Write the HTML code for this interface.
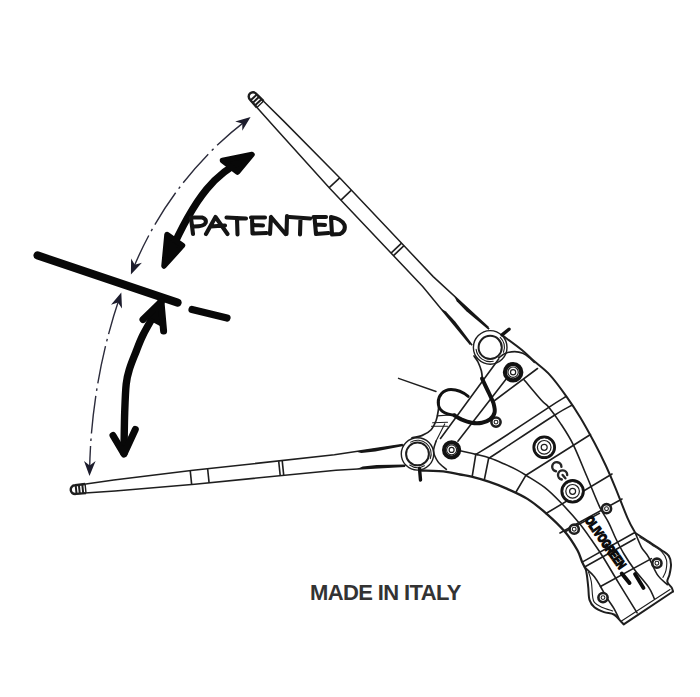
<!DOCTYPE html>
<html><head><meta charset="utf-8"><style>
html,body{margin:0;padding:0;background:#fff;}
body{width:700px;height:697px;overflow:hidden;position:relative;}
svg{position:absolute;left:0;top:0;}
</style></head><body>
<svg width="700" height="697" viewBox="0 0 700 697">
<g>
<rect x="0" y="0" width="700" height="697" fill="#fff"/>
<polygon points="255.6,93.6 262.8,100.5 284.2,121.6 340.4,178.5 433.2,276.6 488.5,327.5 470.4,344.6 422.7,286.5 329.9,188.5 276.2,129.1 256.3,106.7 249.8,99.0" fill="#fff"/><polyline points="255.6,93.6 262.8,100.5 284.2,121.6 340.4,178.5 433.2,276.6 488.5,327.5" fill="none" stroke="#1e1e1e" stroke-width="1.5"/><polyline points="249.8,99.0 256.3,106.7 276.2,129.1 329.9,188.5 422.7,286.5 470.4,344.6" fill="none" stroke="#1e1e1e" stroke-width="1.5"/><path d="M263.6,101.1 L256.5,94.1 C252.3,89.1 245.6,95.5 250.3,100.0 L256.9,107.5" fill="#fff" stroke="#1e1e1e" stroke-width="2.4"/><line x1="256.8" y1="94.5" x2="250.7" y2="100.3" stroke="#1e1e1e" stroke-width="2.0"/><line x1="259.2" y1="96.8" x2="252.8" y2="102.8" stroke="#1e1e1e" stroke-width="2.0"/><line x1="261.6" y1="99.2" x2="255.1" y2="105.3" stroke="#1e1e1e" stroke-width="2.0"/><line x1="263.6" y1="101.1" x2="256.9" y2="107.5" stroke="#1e1e1e" stroke-width="1.4"/><line x1="339.7" y1="177.8" x2="329.2" y2="187.7" stroke="#1e1e1e" stroke-width="1.6"/><line x1="351.4" y1="190.1" x2="340.9" y2="200.1" stroke="#1e1e1e" stroke-width="1.6"/><line x1="401.6" y1="243.2" x2="391.0" y2="253.1" stroke="#1e1e1e" stroke-width="1.6"/><line x1="404.0" y1="245.7" x2="393.5" y2="255.7" stroke="#1e1e1e" stroke-width="1.6"/><polygon points="453.9,295.6 489.7,328.6 488.5,329.7 466.4,311.2 456.7,301.2" fill="#151515"/><polygon points="440.5,308.2 471.5,345.8 472.7,344.7 455.4,321.7 445.9,311.4" fill="#151515"/>
<polygon points="74.2,485.7 84.1,484.2 113.8,480.1 193.2,470.3 334.4,454.8 402.7,444.4 405.0,466.3 336.0,470.2 194.7,484.2 115.0,491.0 85.0,493.1 75.0,493.7" fill="#fff"/><polyline points="74.2,485.7 84.1,484.2 113.8,480.1 193.2,470.3 334.4,454.8 402.7,444.4" fill="none" stroke="#1e1e1e" stroke-width="1.5"/><polyline points="75.0,493.7 85.0,493.1 115.0,491.0 194.7,484.2 336.0,470.2 405.0,466.3" fill="none" stroke="#1e1e1e" stroke-width="1.5"/><path d="M85.1,484.0 L75.1,485.3 C68.7,485.7 69.6,494.8 76.0,493.9 L86.0,493.1" fill="#fff" stroke="#1e1e1e" stroke-width="2.4"/><line x1="75.7" y1="485.4" x2="76.5" y2="493.7" stroke="#1e1e1e" stroke-width="2.0"/><line x1="78.9" y1="484.9" x2="79.8" y2="493.5" stroke="#1e1e1e" stroke-width="2.0"/><line x1="82.3" y1="484.4" x2="83.2" y2="493.3" stroke="#1e1e1e" stroke-width="2.0"/><line x1="85.1" y1="484.0" x2="86.0" y2="493.1" stroke="#1e1e1e" stroke-width="1.4"/><line x1="190.2" y1="470.3" x2="191.7" y2="484.8" stroke="#1e1e1e" stroke-width="1.6"/><line x1="207.6" y1="468.5" x2="209.1" y2="482.9" stroke="#1e1e1e" stroke-width="1.6"/><line x1="278.7" y1="461.1" x2="280.2" y2="475.5" stroke="#1e1e1e" stroke-width="1.6"/><line x1="282.2" y1="460.7" x2="283.7" y2="475.2" stroke="#1e1e1e" stroke-width="1.6"/><polygon points="355.2,451.6 403.4,444.3 403.6,445.9 375.3,451.6 361.3,452.9" fill="#151515"/><polygon points="357.0,469.0 405.7,466.2 405.5,464.6 376.7,464.9 362.7,466.5" fill="#151515"/>
<path d="M503.3,336.1 C506.4,338.4 516.4,345.6 521.6,349.8 C526.8,354.0 529.6,357.1 534.3,361.3 C539.0,365.5 544.7,369.3 550.0,375.1 C555.3,380.9 561.0,388.8 566.0,395.9 C571.0,402.9 575.5,409.5 580.3,417.4 C585.1,425.3 590.4,435.1 594.7,443.2 C599.0,451.3 602.6,458.6 606.0,466.0 C609.4,473.4 611.6,478.5 615.2,487.3 C618.9,496.1 624.5,511.3 627.9,518.9 C631.2,526.5 634.1,530.6 635.3,533.0" fill="none" stroke="#1e1e1e" stroke-width="2.0" stroke-linecap="round" stroke-linejoin="round" />
<path d="M635.3,533.0 C637.5,534.4 644.3,538.7 648.7,541.6 C653.1,544.5 658.2,547.8 661.6,550.2 C665.0,552.6 667.2,553.5 668.8,555.9 C670.4,558.3 670.9,561.4 671.0,564.5 C671.1,567.6 670.1,571.7 669.5,574.6 C668.9,577.5 666.9,579.6 667.3,581.7 C667.6,583.9 670.6,585.9 671.6,587.5 C672.6,589.1 672.8,590.8 673.0,591.5" fill="none" stroke="#1e1e1e" stroke-width="2.0" stroke-linecap="round" stroke-linejoin="round" />
<path d="M673,591.5 L623.7,624.3" fill="none" stroke="#1e1e1e" stroke-width="2.0" stroke-linecap="round" stroke-linejoin="round" />
<path d="M623.7,624.3 C623.3,623.9 622.8,623.4 621.2,621.8 C619.6,620.2 616.8,616.1 613.9,614.5 C611.0,612.9 607.4,613.3 604.1,612.1 C600.9,610.9 596.8,609.2 594.4,607.2 C592.0,605.2 590.5,603.1 589.5,599.9 C588.5,596.6 588.7,591.6 588.3,587.7 C587.9,583.8 587.5,579.8 587.1,576.7 C586.7,573.7 586.1,570.6 585.9,569.4" fill="none" stroke="#1e1e1e" stroke-width="2.0" stroke-linecap="round" stroke-linejoin="round" />
<path d="M585.9,569.4 C585.3,568.2 583.6,565.3 582.2,562.1 C580.8,558.9 580.2,555.1 577.3,550.0 C574.4,544.9 569.9,537.6 564.7,531.5 C559.5,525.4 552.3,518.7 546.1,513.3 C539.9,507.9 533.9,503.0 527.4,498.9 C520.9,494.8 513.8,491.8 507.3,488.9 C500.9,486.0 494.7,483.7 488.7,481.7 C482.7,479.7 476.3,477.9 471.5,476.7 C466.7,475.5 464.2,475.3 460.0,474.5 C455.8,473.7 452.8,472.5 446.4,471.8 C440.0,471.1 425.7,470.7 421.6,470.5" fill="none" stroke="#1e1e1e" stroke-width="2.3" stroke-linecap="round" stroke-linejoin="round" />
<path d="M635.3,533.0 C636.3,535.4 639.3,543.2 641.5,547.3 C643.7,551.3 646.1,552.8 648.7,557.3 C651.3,561.8 654.2,570.0 657.3,574.6 C660.4,579.2 665.6,582.9 667.3,584.6" fill="none" stroke="#1e1e1e" stroke-width="1.6" stroke-linecap="round" stroke-linejoin="round" />
<path d="M639.8,537.3 C641.8,538.6 648.4,542.6 652.0,545.0 C655.6,547.4 659.2,549.1 661.6,551.6 C664.0,554.1 665.8,557.1 666.5,560.2 C667.2,563.3 666.6,567.4 666.0,570.3 C665.4,573.2 663.5,576.2 663.0,577.4" fill="none" stroke="#1e1e1e" stroke-width="1.1" stroke-linecap="round" stroke-linejoin="round" />
<path d="M585.9,568.2 C587.3,569.6 592.0,573.7 594.4,576.7 C596.8,579.8 598.5,583.0 600.5,586.5 C602.5,590.0 604.4,593.8 606.6,597.4 C608.8,601.0 611.9,604.9 613.9,608.4 C615.9,611.9 618.0,616.6 618.8,618.2" fill="none" stroke="#1e1e1e" stroke-width="1.6" stroke-linecap="round" stroke-linejoin="round" />
<path d="M588.5,572.0 C589.0,573.6 590.6,577.6 591.3,581.6 C592.0,585.6 592.1,592.8 592.6,596.2 C593.1,599.7 592.9,600.5 594.4,602.3 C595.9,604.1 598.7,605.8 601.7,607.2 C604.8,608.6 610.9,610.3 612.7,610.9" fill="none" stroke="#1e1e1e" stroke-width="1.1" stroke-linecap="round" stroke-linejoin="round" />
<path d="M670,589.5 L621.5,621" fill="none" stroke="#1e1e1e" stroke-width="1.1" stroke-linecap="round" stroke-linejoin="round" />
<circle cx="490.2" cy="347.4" r="16.8" fill="#fff" stroke="#1e1e1e" stroke-width="1.4"/>
<path d="M500.2,337.4 A14.200000000000001,14.200000000000001 0 0 1 503.5,352.3" fill="none" stroke="#1e1e1e" stroke-width="1.1" stroke-linecap="round" stroke-linejoin="round" />
<path d="M493.2,361.3 A14.200000000000001,14.200000000000001 0 0 1 476.1,349.4" fill="none" stroke="#1e1e1e" stroke-width="1.1" stroke-linecap="round" stroke-linejoin="round" />
<circle cx="490.2" cy="347.4" r="11.6" fill="#fff" stroke="#1e1e1e" stroke-width="2.0"/>
<circle cx="417.5" cy="453.9" r="16.2" fill="#fff" stroke="#1e1e1e" stroke-width="1.4"/>
<path d="M410.7,442.1 A13.6,13.6 0 0 1 430.3,458.6" fill="none" stroke="#1e1e1e" stroke-width="1.1" stroke-linecap="round" stroke-linejoin="round" />
<path d="M424.3,465.7 A13.6,13.6 0 0 1 409.7,465.0" fill="none" stroke="#1e1e1e" stroke-width="1.1" stroke-linecap="round" stroke-linejoin="round" />
<circle cx="417.5" cy="453.9" r="11.4" fill="#fff" stroke="#1e1e1e" stroke-width="2.0"/>
<path d="M474.0,356.0 C474.7,357.0 476.8,359.5 478.0,362.0 C479.2,364.5 480.6,368.0 481.4,371.0 C482.1,374.0 482.3,378.5 482.5,380.0" fill="none" stroke="#1e1e1e" stroke-width="1.7" stroke-linecap="round" stroke-linejoin="round" />
<path d="M439.0,402.0 C438.9,403.3 438.9,406.6 438.4,409.6 C437.9,412.7 437.4,416.9 436.2,420.3 C434.9,423.7 433.2,427.5 430.9,430.0 C428.6,432.5 425.4,434.1 422.3,435.4 C419.2,436.7 413.7,437.4 412.0,437.8" fill="none" stroke="#1e1e1e" stroke-width="1.7" stroke-linecap="round" stroke-linejoin="round" />
<path d="M437.2,415.9 L453.3,414.8 M432.6,422.8 L447.5,422.2 M431.5,426.2 L447.5,426.2" fill="none" stroke="#1e1e1e" stroke-width="1.1" stroke-linecap="round" stroke-linejoin="round" />
<path d="M498.7,359 L440.5,438.5" fill="none" stroke="#1e1e1e" stroke-width="1.6" stroke-linecap="round" stroke-linejoin="round" />
<path d="M505.6,379.7 L457.9,441.2" fill="none" stroke="#1e1e1e" stroke-width="1.6" stroke-linecap="round" stroke-linejoin="round" />
<path d="M498.7,357.9 C499.9,357.1 502.9,354.4 505.6,353.3 C508.3,352.2 511.9,351.6 514.8,351.6 C517.7,351.6 520.3,352.2 522.8,353.3 C525.3,354.4 527.8,356.4 529.7,357.9 C531.6,359.4 533.5,361.7 534.3,362.5" fill="none" stroke="#1e1e1e" stroke-width="1.6" stroke-linecap="round" stroke-linejoin="round" />
<path d="M537.5,368.5 L494,401" fill="none" stroke="#1e1e1e" stroke-width="1.6" stroke-linecap="round" stroke-linejoin="round" />
<path d="M524.0,379.7 C526.9,383.1 537.1,395.4 541.2,400.0 C545.3,404.6 545.6,403.4 548.8,407.3 C552.0,411.2 556.2,416.9 560.3,423.1 C564.4,429.3 568.8,435.7 573.2,444.6 C577.6,453.5 582.4,466.0 586.8,476.3 C591.2,486.6 595.8,498.6 599.4,506.3 C603.0,514.0 605.8,517.1 608.6,522.6 C611.4,528.1 613.4,533.8 616.0,539.0 C618.6,544.2 621.0,549.0 624.0,554.0 C627.0,559.0 629.9,563.5 634.0,569.0 C638.1,574.5 645.2,582.2 648.6,587.1 C652.0,592.0 653.3,596.7 654.3,598.6" fill="none" stroke="#1e1e1e" stroke-width="1.6" stroke-linecap="round" stroke-linejoin="round" />
<path d="M460.0,450.8 C462.8,451.4 471.9,453.4 476.9,454.6 C481.9,455.8 485.2,456.5 489.8,458.1 C494.4,459.7 499.8,462.1 504.4,464.1 C509.0,466.1 513.7,468.2 517.3,470.1 C520.9,472.0 521.5,472.4 526.0,475.3 C530.5,478.2 538.9,483.0 544.6,487.4 C550.3,491.8 554.3,495.9 560.0,501.8 C565.7,507.7 573.5,516.2 578.7,522.5 C583.9,528.8 587.4,534.0 591.4,539.8 C595.4,545.5 598.5,549.8 603.0,557.0 C607.5,564.2 612.9,573.6 618.6,582.9 C624.3,592.2 634.0,607.9 637.1,612.9" fill="none" stroke="#1e1e1e" stroke-width="1.6" stroke-linecap="round" stroke-linejoin="round" />
<path d="M436.1,441.0 C435.7,442.7 433.3,447.9 433.6,451.3 C433.9,454.7 435.8,458.6 437.9,461.6 C440.0,464.6 445.0,468.0 446.4,469.3" fill="none" stroke="#1e1e1e" stroke-width="1.6" stroke-linecap="round" stroke-linejoin="round" />
<path d="M436.1,441 L444.7,423.9" fill="none" stroke="#1e1e1e" stroke-width="1.1" stroke-linecap="round" stroke-linejoin="round" />
<path d="M475.8,454.4 C479.8,451.9 487.8,447.4 500.0,439.5 C512.2,431.6 537.8,414.5 548.8,407.3 C559.8,400.1 563.1,398.3 566.0,396.5" fill="none" stroke="#1e1e1e" stroke-width="1.6" stroke-linecap="round" stroke-linejoin="round" />
<path d="M488.7,458.5 C490.6,457.2 489.0,458.2 500.0,451.0 C511.0,443.8 542.5,422.8 554.5,415.2 C566.5,407.6 568.8,406.9 571.7,405.3" fill="none" stroke="#1e1e1e" stroke-width="1.6" stroke-linecap="round" stroke-linejoin="round" />
<path d="M475.8,454.4 L472.2,476.5" fill="none" stroke="#1e1e1e" stroke-width="1.6" stroke-linecap="round" stroke-linejoin="round" />
<path d="M488.7,458 L484.4,479.5" fill="none" stroke="#1e1e1e" stroke-width="1.6" stroke-linecap="round" stroke-linejoin="round" />
<path d="M526,475.2 L516,492" fill="none" stroke="#1e1e1e" stroke-width="1.6" stroke-linecap="round" stroke-linejoin="round" />
<path d="M526,475.2 L590.5,434.5" fill="none" stroke="#1e1e1e" stroke-width="1.6" stroke-linecap="round" stroke-linejoin="round" />
<path d="M546,513.5 L612,474" fill="none" stroke="#1e1e1e" stroke-width="1.6" stroke-linecap="round" stroke-linejoin="round" />
<path d="M560,533 L622,499" fill="none" stroke="#1e1e1e" stroke-width="1.6" stroke-linecap="round" stroke-linejoin="round" />
<path d="M582.2,562.1 L633.9,533" fill="none" stroke="#1e1e1e" stroke-width="1.6" stroke-linecap="round" stroke-linejoin="round" />
<path d="M584.6,567 L635,538.7" fill="none" stroke="#1e1e1e" stroke-width="1.6" stroke-linecap="round" stroke-linejoin="round" />
<path d="M600.5,586.5 L651.4,558.6" fill="none" stroke="#1e1e1e" stroke-width="1.6" stroke-linecap="round" stroke-linejoin="round" />
<path d="M565,531.8 L599.4,513.4" fill="none" stroke="#1e1e1e" stroke-width="1.6" stroke-linecap="round" stroke-linejoin="round" />
<circle cx="513.1" cy="372.2" r="8.20" fill="#fff" stroke="#121212" stroke-width="4.2"/><circle cx="513.1" cy="372.2" r="5.2" fill="none" stroke="#1e1e1e" stroke-width="1.2"/><circle cx="513.1" cy="372.2" r="2.6" fill="#fff" stroke="#1e1e1e" stroke-width="1.2"/>
<circle cx="451.6" cy="449.9" r="7.60" fill="#fff" stroke="#121212" stroke-width="4.0"/><circle cx="451.6" cy="449.9" r="5.0" fill="none" stroke="#1e1e1e" stroke-width="1.2"/><circle cx="451.6" cy="449.9" r="2.5" fill="#fff" stroke="#1e1e1e" stroke-width="1.2"/>
<circle cx="544.2" cy="447.3" r="10.50" fill="#fff" stroke="#121212" stroke-width="2.6"/><circle cx="544.2" cy="447.3" r="6.8" fill="none" stroke="#1e1e1e" stroke-width="1.2"/><circle cx="544.2" cy="447.3" r="3.0" fill="#fff" stroke="#1e1e1e" stroke-width="1.2"/><circle cx="544.2" cy="447.3" r="9.6" fill="none" stroke="#1e1e1e" stroke-width="1.1"/>
<circle cx="572.6" cy="491.3" r="10.90" fill="#fff" stroke="#121212" stroke-width="2.6"/><circle cx="572.6" cy="491.3" r="6.8" fill="none" stroke="#1e1e1e" stroke-width="1.2"/><circle cx="572.6" cy="491.3" r="3.0" fill="#fff" stroke="#1e1e1e" stroke-width="1.2"/><circle cx="572.6" cy="491.3" r="9.9" fill="none" stroke="#1e1e1e" stroke-width="1.1"/>
<circle cx="496" cy="422.1" r="4.6" fill="#fff" stroke="#1e1e1e" stroke-width="2.6"/><circle cx="496" cy="422.1" r="1.9" fill="none" stroke="#1e1e1e" stroke-width="1.1"/>
<circle cx="574.2" cy="529.2" r="4.6" fill="#fff" stroke="#1e1e1e" stroke-width="2.6"/><circle cx="574.2" cy="529.2" r="1.9" fill="none" stroke="#1e1e1e" stroke-width="1.1"/>
<circle cx="606.5" cy="508.7" r="4.6" fill="#fff" stroke="#1e1e1e" stroke-width="2.6"/><circle cx="606.5" cy="508.7" r="1.9" fill="none" stroke="#1e1e1e" stroke-width="1.1"/>
<circle cx="656.9" cy="563.2" r="4.6" fill="#fff" stroke="#1e1e1e" stroke-width="2.6"/><circle cx="656.9" cy="563.2" r="1.9" fill="none" stroke="#1e1e1e" stroke-width="1.1"/>
<circle cx="603" cy="597.6" r="4.6" fill="#fff" stroke="#1e1e1e" stroke-width="2.6"/><circle cx="603" cy="597.6" r="1.9" fill="none" stroke="#1e1e1e" stroke-width="1.1"/>
<path d="M468.2,396.4 C463,392 458,389.5 451,389.5 C443,389.5 438.2,396 438.2,402.5 C438.2,409.5 444,414.2 454.4,415.3" fill="none" stroke="#111" stroke-width="2.9" stroke-linecap="round" stroke-linejoin="round" />
<path d="M482.0,378.5 C483.1,380.9 487.0,388.9 488.9,393.0 C490.8,397.1 492.6,400.1 493.5,403.3 C494.4,406.6 495.2,409.8 494.6,412.5 C494.0,415.2 492.1,417.7 490.0,419.4 C487.9,421.1 485.1,422.2 482.0,422.8 C478.9,423.4 475.1,423.4 471.6,422.8 C468.2,422.2 464.2,420.6 461.3,419.4 C458.4,418.1 455.5,416.0 454.4,415.3" fill="none" stroke="#111" stroke-width="4.0" stroke-linecap="round" stroke-linejoin="round" />
<path d="M398.5,378.3 L436,391.5" fill="none" stroke="#1e1e1e" stroke-width="1.4" stroke-linecap="round" stroke-linejoin="round" />
<path d="M502.1,334.9 L509,329.2" fill="none" stroke="#111" stroke-width="3.4" stroke-linecap="round" stroke-linejoin="round" />
<path d="M419.5,468.5 L420.5,480" fill="none" stroke="#111" stroke-width="3.4" stroke-linecap="round" stroke-linejoin="round" />
<path d="M556.0,471.3 A4.6,4.6 0 1 1 561.4,466.8" fill="none" stroke="#262626" stroke-width="2.4" stroke-linecap="round" stroke-linejoin="round" />
<path d="M561.8,479.5 A4.6,4.6 0 1 1 567.2,475.0 M562.6,475.0 L565.4,478.3" fill="none" stroke="#262626" stroke-width="2.4" stroke-linecap="round" stroke-linejoin="round" />
<g transform="translate(605.2,542.7) rotate(55)"><text x="0" y="0" font-family="Liberation Sans, sans-serif" font-weight="bold" font-size="12.5" fill="#0c0c0c" stroke="#0c0c0c" stroke-width="1.5" text-anchor="middle" dominant-baseline="central" textLength="61" lengthAdjust="spacingAndGlyphs">OLIVOGREEN</text></g>
<path d="M621.8,573.5 L629.5,583" fill="none" stroke="#0c0c0c" stroke-width="4.0" stroke-linecap="round" stroke-linejoin="round" />
<path d="M635,574 L643.5,588" fill="none" stroke="#0c0c0c" stroke-width="3.8" stroke-linecap="round" stroke-linejoin="round" />
<line x1="37.5" y1="255.4" x2="177.6" y2="302.6" stroke="#080808" stroke-width="8" stroke-linecap="round"/>
<line x1="192" y1="309.5" x2="227" y2="318" stroke="#080808" stroke-width="7.2" stroke-linecap="round"/>
<path d="M244,160 C218,172 196,193 168,258" fill="none" stroke="#080808" stroke-width="7.2" stroke-linecap="round" stroke-linejoin="round" />
<polygon points="252,154.5 222.5,160.5 237.5,172" fill="#080808" stroke="#080808" stroke-width="5.5" stroke-linejoin="round"/>
<polygon points="164,266 167,234.5 182.5,245.5" fill="#080808" stroke="#080808" stroke-width="5.5" stroke-linejoin="round"/>
<path d="M161.0,302.0 C159.9,304.0 157.6,308.5 154.6,314.0 C151.6,319.5 146.2,328.6 143.0,335.0 C139.8,341.4 137.9,346.9 135.7,352.6 C133.4,358.3 131.1,363.8 129.5,369.0 C127.9,374.2 127.0,376.9 126.2,384.1 C125.4,391.4 125.1,401.0 124.7,412.5 C124.3,424.0 124.1,446.2 124.0,453.0" fill="none" stroke="#080808" stroke-width="7.4" stroke-linecap="round" stroke-linejoin="round" />
<polygon points="161,303 148,318 163,326" fill="#080808" stroke="#080808" stroke-width="3" stroke-linejoin="round"/>
<path d="M143,319.5 L161,302 L163.6,331" fill="none" stroke="#080808" stroke-width="7" stroke-linecap="round" stroke-linejoin="round" />
<path d="M113,435.5 L124,454 L135.3,429.5" fill="none" stroke="#080808" stroke-width="7" stroke-linecap="round" stroke-linejoin="round" />
<path d="M245.9,120.6 A358.2,358.2 0 0 0 133.1,268.9" fill="none" stroke="#2b2b3b" stroke-width="1.4" stroke-dasharray="38,5,2.5,5"/>
<polygon points="250.6,117.0 242.3,130.7 242.3,123.4 235.2,121.5" fill="#1c1c2c"/>
<polygon points="130.9,274.4 131.1,258.4 134.8,264.7 141.9,262.7" fill="#1c1c2c"/>
<path d="M119.5,297.7 A571.8,571.8 0 0 0 89.6,470.4" fill="none" stroke="#2b2b3b" stroke-width="1.4" stroke-dasharray="38,5,2.5,5"/>
<polygon points="121.3,292.4 122.0,308.5 117.9,302.4 111.0,304.8" fill="#1c1c2c"/>
<polygon points="89.5,476.0 84.0,460.9 89.7,465.5 95.6,461.1" fill="#1c1c2c"/>
<path d="M191,218 L193,234 M191,217.5 L202,217.5 Q207,219 205.5,223 Q204,226.5 194,226.5 M206,234 L215.5,217 L227.5,234 M210.5,226.5 L225,225.5 M226.5,217.5 L246,218.5 M237,218 L237.5,234.5 M251,217.5 L265,217.5 M252,217.5 L252.5,233.5 M252.5,225 L263,225.5 M252.5,233.5 L266.5,233 M271,217 L270,234 M271,217 L285.5,234 M287,216 L286.5,234 M289.5,217 L310,218.5 M300.5,218 L300,234.5 M313.5,217 L326,217 M314.5,217 L316,234 M316,224.5 L325,225 M316,234 L328.5,233 M331,217 L332,234.5 M331,217 Q342,219 344.5,225 Q346,231 340,234 L332,234.5" fill="none" stroke="#141414" stroke-width="4.1" stroke-linecap="round" stroke-linejoin="round" />
<text x="310" y="599.8" font-family="Liberation Sans, sans-serif" font-size="22" font-weight="bold" fill="#333" letter-spacing="-0.62">MADE IN ITALY</text>
</g>
</svg>
</body></html>
